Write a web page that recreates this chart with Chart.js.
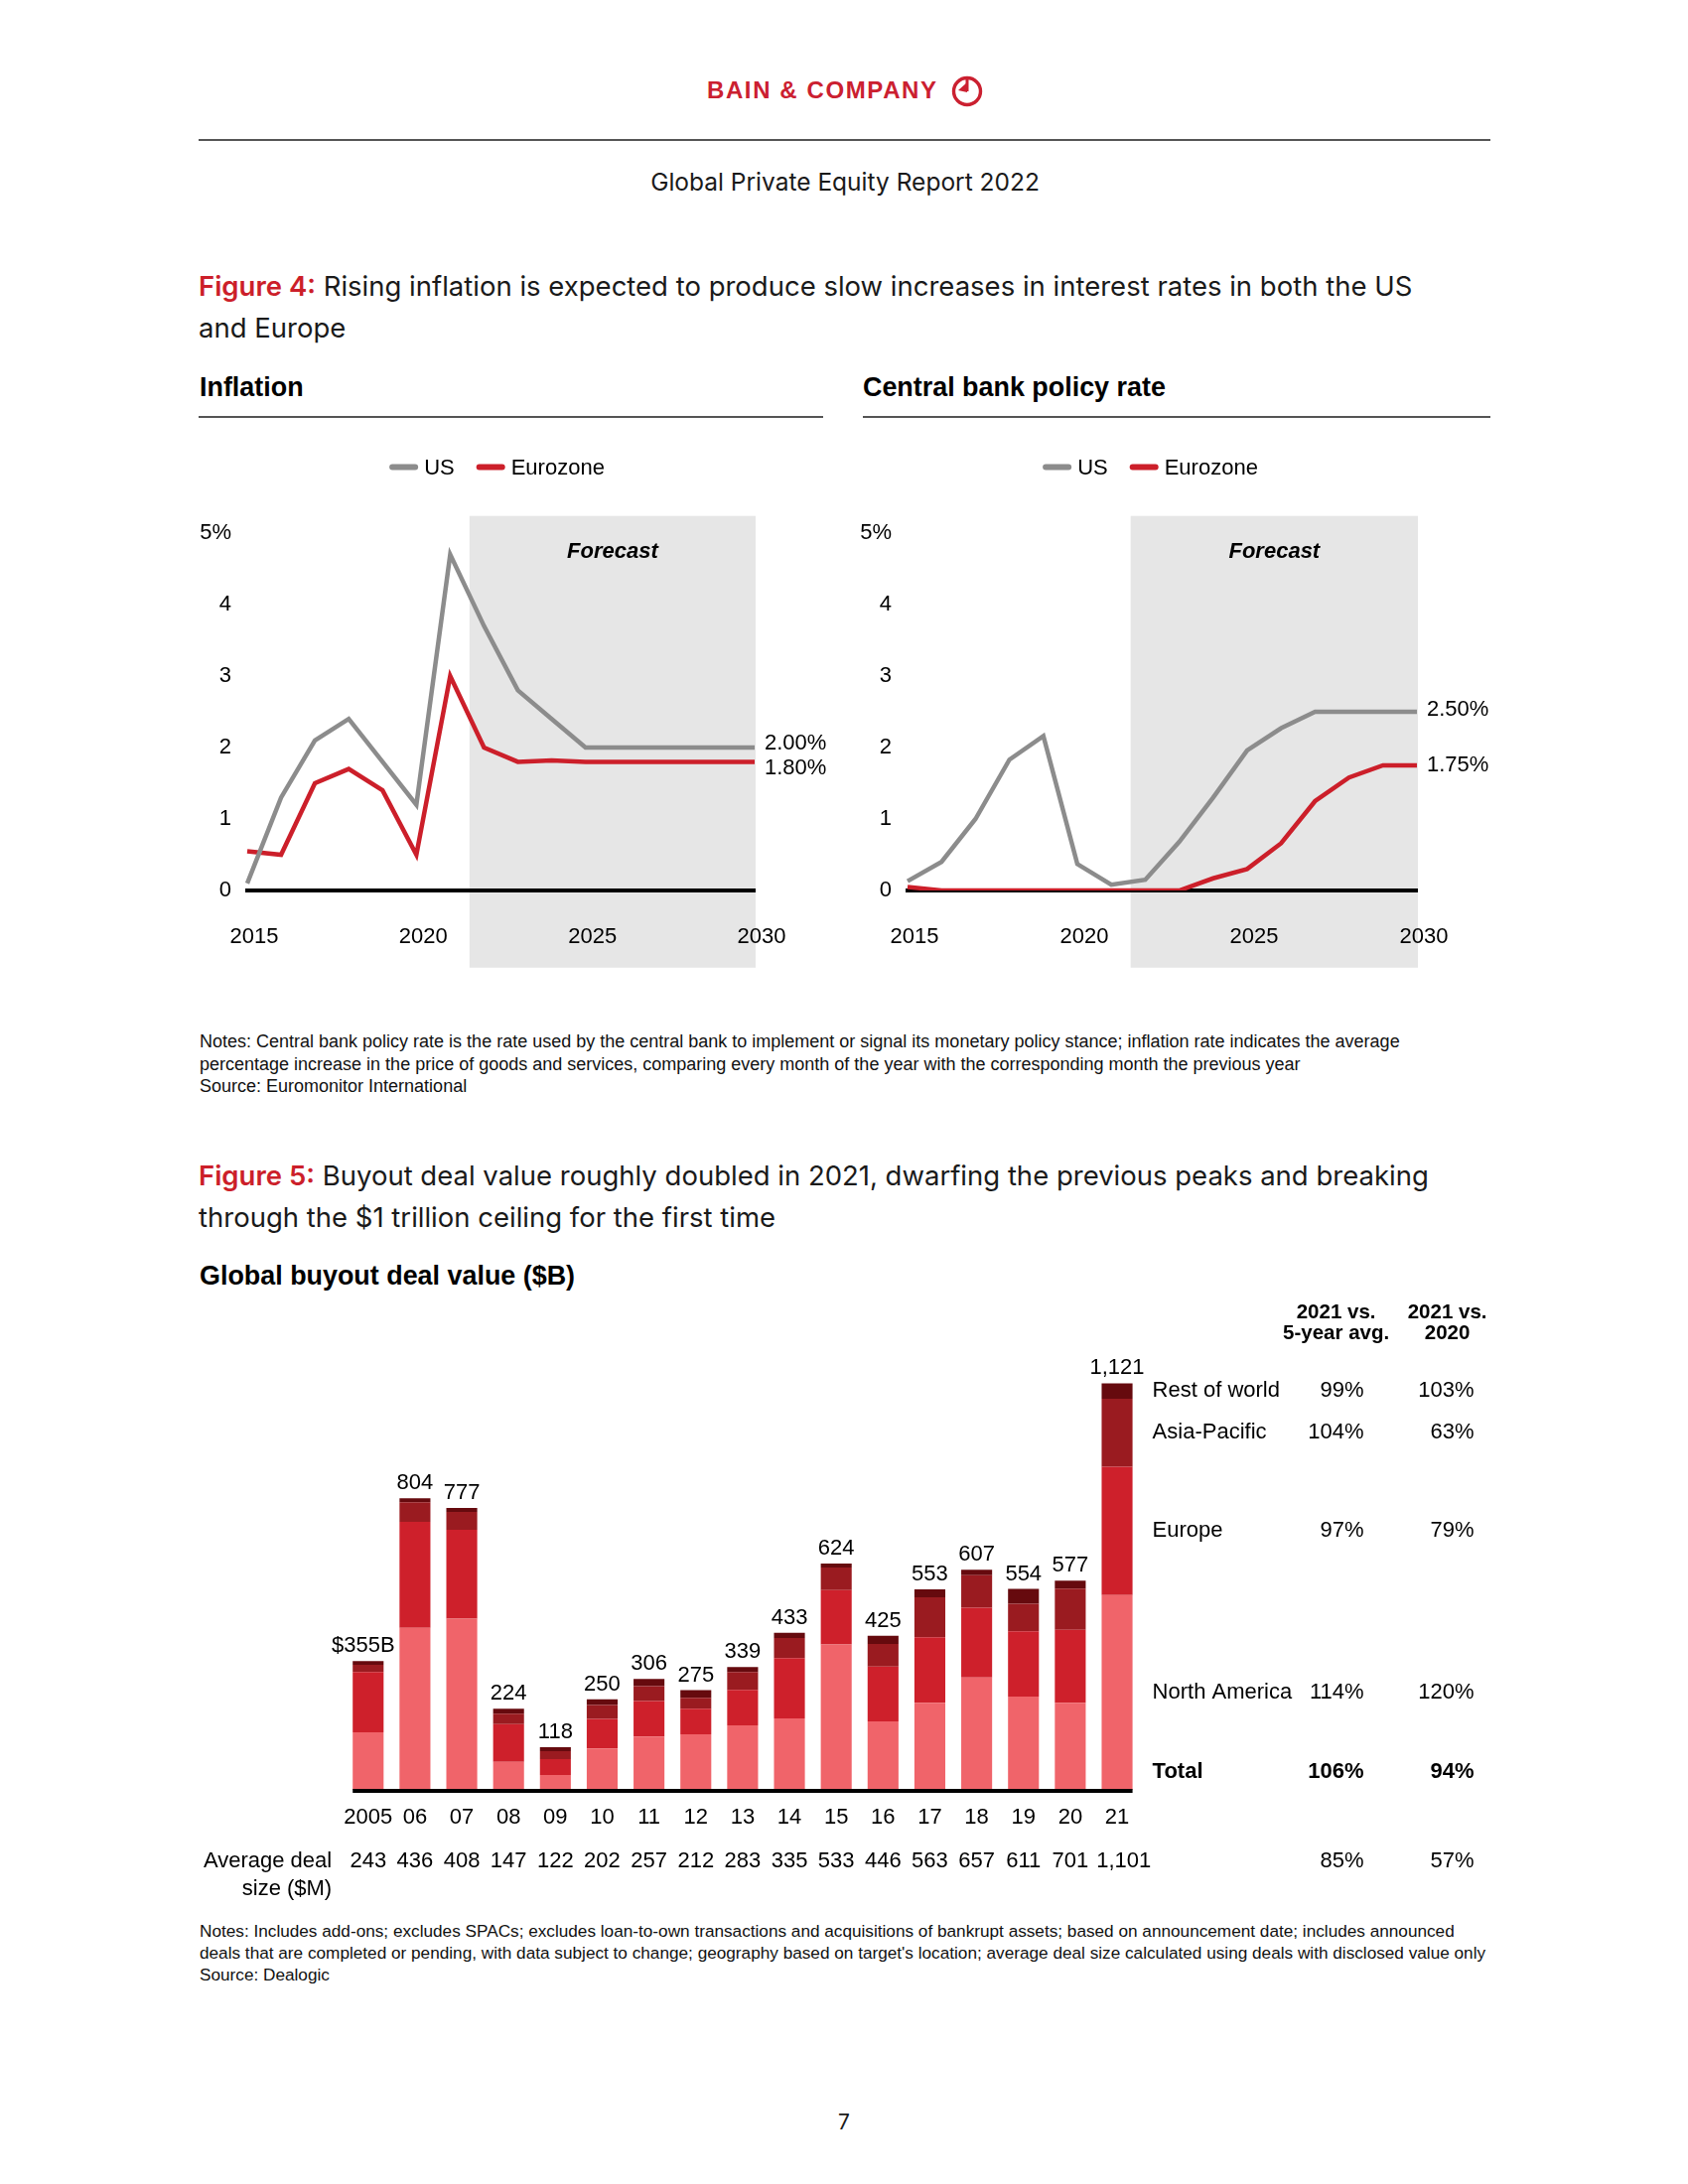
<!DOCTYPE html>
<html>
<head>
<meta charset="utf-8">
<title>Global Private Equity Report 2022</title>
<script src="https://cdn.jsdelivr.net/npm/chart.js@4.4.1/dist/chart.umd.min.js"></script>
<style>
  body { margin: 0; background: #fff; }
  #page { position: relative; width: 1700px; height: 2200px; background: #fff; color: #000;
          font-family: "Liberation Sans", Arial, sans-serif; overflow: hidden; }
  .abs { position: absolute; white-space: nowrap; }
  .sans { font-family: Inter, "Open Sans", sans-serif; color: #1a1a1a; }
  .fig-title { left: 200px; font-size: 27.5px; line-height: 42px; }
  .fig-title b { color: #cc1f2a; font-weight: 600; }
  .chart-head { font-size: 26.9px; font-weight: bold; line-height: 30px; }
  .rule { position: absolute; height: 2px; background: #555; }
  .notes { left: 201px; color: #111; }
  .box { position: absolute; }
</style>
</head>
<body>
<div id="page">
  <!-- header -->
  <div class="abs" style="left:712px; top:77px; line-height:28px; font-size:24px; font-weight:bold; letter-spacing:1.6px; color:#cb2030;">BAIN &amp; COMPANY</div>
  <svg class="abs" style="left:957px; top:75px;" width="34" height="34" viewBox="0 0 34 34">
    <circle cx="17" cy="17" r="13.5" fill="none" stroke="#cb2030" stroke-width="3.4"/>
    <line x1="17" y1="3" x2="17" y2="17" stroke="#cb2030" stroke-width="3"/>
    <polygon points="17,8 17,18 8,16" fill="#cb2030"/>
  </svg>
  <div class="rule" style="left:200px; top:140px; width:1301px;"></div>
  <div class="abs sans" style="left:0; width:1702px; text-align:center; top:168px; line-height:30px; font-size:24.5px;">Global Private Equity Report 2022</div>

  <!-- figure 4 -->
  <div class="abs sans fig-title" style="top:267px;"><b>Figure 4:</b> Rising inflation is expected to produce slow increases in interest rates in both the US<br>and Europe</div>
  <div class="abs chart-head" style="left:201px; top:375px;">Inflation</div>
  <div class="abs chart-head" style="left:869px; top:375px;">Central bank policy rate</div>
  <div class="rule" style="left:200px; top:419px; width:629px; height:1.5px;"></div>
  <div class="rule" style="left:869px; top:419px; width:632px; height:1.5px;"></div>

  <div class="box" style="left:180px; top:445px; width:670px; height:540px;"><canvas id="inflationChart"></canvas></div>
  <div class="box" style="left:845px; top:445px; width:660px; height:540px;"><canvas id="policyChart"></canvas></div>

  <div class="abs notes" style="top:1038px; line-height:22.5px; font-size:18px;">Notes: Central bank policy rate is the rate used by the central bank to implement or signal its monetary policy stance; inflation rate indicates the average<br>percentage increase in the price of goods and services, comparing every month of the year with the corresponding month the previous year<br>Source: Euromonitor International</div>

  <!-- figure 5 -->
  <div class="abs sans fig-title" style="top:1163px;"><b>Figure 5:</b> Buyout deal value roughly doubled in 2021, dwarfing the previous peaks and breaking<br>through the $1 trillion ceiling for the first time</div>
  <div class="abs chart-head" style="left:201px; top:1270px;">Global buyout deal value ($B)</div>

  <div class="box" style="left:190px; top:1300px; width:1320px; height:620px;"><canvas id="dealChart"></canvas></div>

  <div class="abs notes" style="top:1934px; line-height:22px; font-size:17.2px;">Notes: Includes add-ons; excludes SPACs; excludes loan-to-own transactions and acquisitions of bankrupt assets; based on announcement date; includes announced<br>deals that are completed or pending, with data subject to change; geography based on target's location; average deal size calculated using deals with disclosed value only<br>Source: Dealogic</div>

  <div class="abs sans" style="left:0; width:1700px; text-align:center; top:2125px; line-height:26px; font-size:21px;">7</div>
</div>

<script>
// ─── Data ────────────────────────────────────────────────────────────────────
const years = [2015, 2016, 2017, 2018, 2019, 2020, 2021, 2022, 2023, 2024, 2025, 2026, 2027, 2028, 2029, 2030];
const forecastFrom = 2021.57;

const inflationUS   = [0.1, 1.3, 2.1, 2.4, 1.8, 1.2, 4.7, 3.7, 2.8, 2.4, 2.0, 2.0, 2.0, 2.0, 2.0, 2.0];
const inflationEuro = [0.55, 0.5, 1.5, 1.7, 1.4, 0.5, 3.0, 2.0, 1.8, 1.82, 1.8, 1.8, 1.8, 1.8, 1.8, 1.8];

const policyUS   = [0.13, 0.4, 1.0, 1.83, 2.16, 0.37, 0.08, 0.15, 0.68, 1.3, 1.96, 2.27, 2.5, 2.5, 2.5, 2.5];
const policyEuro = [0.05, 0.0, 0.0, 0.0, 0.0, 0.0, 0.0, 0.0, 0.0, 0.17, 0.3, 0.66, 1.25, 1.58, 1.75, 1.75];

const dealYears = ['2005', '06', '07', '08', '09', '10', '11', '12', '13', '14', '15', '16', '17', '18', '19', '20', '21'];
const northAmerica = [159, 447, 472, 77, 41, 114, 147, 153, 178, 197, 401, 189, 240, 310, 257, 240, 537];
const europe       = [166, 292, 245, 104, 44, 82, 98, 71, 98, 166, 150, 151, 181, 192, 180, 201, 354];
const asiaPacific  = [20, 54, 49, 29, 22, 38, 41, 30, 49, 56, 62, 62, 110, 90, 76, 114, 187];
const restOfWorld  = [10, 11, 11, 14, 11, 16, 20, 21, 14, 14, 11, 23, 22, 15, 41, 22, 43];
const avgDealSize  = [243, 436, 408, 147, 122, 202, 257, 212, 283, 335, 533, 446, 563, 657, 611, 701, 1101];

// 2021 growth table, same order as the stacked series (bottom to top)
const vsFiveYearAvg = [114, 97, 104, 99];
const vs2020        = [120, 79, 63, 103];
const totalGrowth   = [106, 94];
const avgDealGrowth = [85, 57];

const FONT = '"Liberation Sans", Arial, sans-serif';
const GREY = '#8c8c8c';
const RED = '#cc1f2a';

Chart.defaults.font.family = FONT;
Chart.defaults.color = '#000';
Chart.defaults.animation = false;

// ─── Line charts (inflation / policy rate) ──────────────────────────────────
const forecastShade = {
  id: 'forecastShade',
  beforeDraw(chart) {
    const { ctx, chartArea, scales: { x, y } } = chart;
    const x0 = x.getPixelForValue(forecastFrom - years[0]);
    const x1 = x.getPixelForValue(years.length - 1) + 1;
    const top = y.getPixelForValue(5.24);
    const bottom = y.getPixelForValue(-1.08);
    ctx.save();
    ctx.fillStyle = '#e6e6e6';
    ctx.fillRect(x0, top, x1 - x0, bottom - top);
    ctx.fillStyle = '#000';
    ctx.font = 'italic bold 22px ' + FONT;
    ctx.textAlign = 'center';
    ctx.textBaseline = 'middle';
    ctx.fillText('Forecast', (x0 + x1) / 2, chartArea.top + 19);
    ctx.restore();
  }
};

function lineLegend(shift) {
  return {
    id: 'lineLegend',
    afterDraw(chart) {
      const { ctx, chartArea } = chart;
      const sets = chart.data.datasets;
      const iconW = 29, gapIcon = 6, gapItem = 22;
      ctx.save();
      ctx.font = '22px ' + FONT;
      const widths = sets.map(d => iconW + gapIcon + ctx.measureText(d.label).width);
      const total = widths.reduce((a, b) => a + b, 0) + gapItem * (sets.length - 1);
      let x = (chartArea.left + chartArea.right) / 2 + shift - total / 2;
      const y = chartArea.top - 66.5;
      sets.forEach((d, i) => {
        ctx.strokeStyle = d.borderColor;
        ctx.lineWidth = 6;
        ctx.lineCap = 'round';
        ctx.beginPath();
        ctx.moveTo(x + 3, y);
        ctx.lineTo(x + iconW - 3, y);
        ctx.stroke();
        ctx.fillStyle = '#000';
        ctx.textAlign = 'left';
        ctx.textBaseline = 'middle';
        ctx.fillText(d.label, x + iconW + gapIcon, y + 1);
        x += widths[i] + gapItem;
      });
      ctx.restore();
    }
  };
}

function endLabels(nudge) {
  return {
    id: 'endLabels',
    afterDatasetsDraw(chart) {
      const { ctx } = chart;
      ctx.save();
      ctx.font = '22px ' + FONT;
      ctx.fillStyle = '#000';
      ctx.textAlign = 'left';
      ctx.textBaseline = 'middle';
      chart.data.datasets.forEach((d, i) => {
        const pts = chart.getDatasetMeta(i).data;
        const last = pts[pts.length - 1];
        ctx.fillText(d.data[d.data.length - 1].toFixed(2) + '%', last.x + 10, last.y + nudge[i]);
      });
      ctx.restore();
    }
  };
}

function renderLineChart(id, us, euro, padRight, legendShift, nudge) {
  const ctx = document.getElementById(id);
  return new Chart(ctx, {
    type: 'line',
    data: {
      labels: years,
      datasets: [
        { label: 'US', data: us, borderColor: GREY, borderWidth: 4.5, pointRadius: 0, tension: 0 },
        { label: 'Eurozone', data: euro, borderColor: RED, borderWidth: 4.5, pointRadius: 0, tension: 0 },
      ],
    },
    options: {
      responsive: true,
      maintainAspectRatio: false,
      layout: { padding: { top: 92, right: padRight, bottom: 0, left: 0 } },
      plugins: { legend: { display: false }, tooltip: { enabled: false } },
      scales: {
        x: {
          grid: { display: false },
          border: { display: true, color: '#000', width: 4 },
          afterFit: s => { s.height = 88; },
          ticks: {
            autoSkip: false, maxRotation: 0, padding: 26, labelOffset: 7,
            font: { size: 22 },
            callback: (v, i) => (years[i] % 5 === 0 ? String(years[i]) : ''),
          },
        },
        y: {
          min: 0, max: 5,
          grid: { display: false },
          border: { display: false },
          afterFit: s => { s.width = 69; },
          ticks: { stepSize: 1, padding: 8, font: { size: 22 }, callback: v => (v === 5 ? '5%' : v) },
        },
      },
    },
    plugins: [forecastShade, lineLegend(legendShift), endLabels(nudge)],
  });
}

// ─── Stacked bars (buyout deal value) ───────────────────────────────────────
const dealAnnotations = {
  id: 'dealAnnotations',
  afterDatasetsDraw(chart) {
    const { ctx, chartArea } = chart;
    const metas = chart.data.datasets.map((d, i) => chart.getDatasetMeta(i));
    const first = metas[0].data[0];
    const lastIdx = dealYears.length - 1;
    const lastBar = metas[0].data[lastIdx];
    const base = chartArea.bottom;

    ctx.save();
    // baseline under the bars
    ctx.fillStyle = '#000';
    const x0 = first.x - first.width / 2;
    ctx.fillRect(x0, base - 1, lastBar.x + lastBar.width / 2 - x0, 4);

    ctx.font = '22px ' + FONT;
    ctx.textAlign = 'center';
    ctx.textBaseline = 'alphabetic';
    // totals above each bar
    dealYears.forEach((yr, i) => {
      const total = northAmerica[i] + europe[i] + asiaPacific[i] + restOfWorld[i];
      const topEl = metas[metas.length - 1].data[i];
      const txt = i === 0 ? '$' + total + 'B' : total.toLocaleString('en-US');
      ctx.fillText(txt, topEl.x - (i === 0 ? 5 : 0), topEl.y - 9);
    });

    // average deal size row (nudged right where a label would collide)
    ctx.textBaseline = 'middle';
    let prevRight = -Infinity;
    dealYears.forEach((yr, i) => {
      const el = metas[0].data[i];
      const txt = avgDealSize[i].toLocaleString('en-US');
      const w = ctx.measureText(txt).width;
      const cx = Math.max(el.x, prevRight + 8 + w / 2);
      ctx.fillText(txt, cx, base + 72);
      prevRight = cx + w / 2;
    });
    ctx.textAlign = 'right';
    ctx.fillText('Average deal', chartArea.left - 13, base + 72);
    ctx.fillText('size ($M)', chartArea.left - 13, base + 100);

    // growth table to the right of the 2021 bar
    const nameX = chartArea.right + 12;
    const col1 = chartArea.right + 225;
    const col2 = chartArea.right + 336;
    chart.data.datasets.forEach((d, i) => {
      const el = metas[i].data[lastIdx];
      const y = (el.y + el.base) / 2;
      ctx.textAlign = 'left';
      ctx.fillText(d.label, nameX, y);
      ctx.textAlign = 'right';
      ctx.fillText(vsFiveYearAvg[i] + '%', col1, y);
      ctx.fillText(vs2020[i] + '%', col2, y);
    });
    ctx.textAlign = 'right';
    ctx.fillText(avgDealGrowth[0] + '%', col1, base + 72);
    ctx.fillText(avgDealGrowth[1] + '%', col2, base + 72);

    ctx.font = 'bold 22px ' + FONT;
    ctx.textAlign = 'left';
    ctx.fillText('Total', nameX, base - 18);
    ctx.textAlign = 'right';
    ctx.fillText(totalGrowth[0] + '%', col1, base - 18);
    ctx.fillText(totalGrowth[1] + '%', col2, base - 18);

    ctx.font = 'bold 20.5px ' + FONT;
    ctx.textAlign = 'center';
    ctx.fillText('2021 vs.', col1 - 28, chartArea.top - 6);
    ctx.fillText('5-year avg.', col1 - 28, chartArea.top + 15);
    ctx.fillText('2021 vs.', col2 - 27, chartArea.top - 6);
    ctx.fillText('2020', col2 - 27, chartArea.top + 15);
    ctx.restore();
  }
};

function renderDealChart() {
  const ctx = document.getElementById('dealChart');
  const series = [
    { label: 'North America', data: northAmerica, color: '#f0646a' },
    { label: 'Europe',        data: europe,       color: '#ce202b' },
    { label: 'Asia-Pacific',  data: asiaPacific,  color: '#9a1b20' },
    { label: 'Rest of world', data: restOfWorld,  color: '#660a0e' },
  ];
  return new Chart(ctx, {
    type: 'bar',
    data: {
      labels: dealYears,
      datasets: series.map(s => ({
        label: s.label,
        data: s.data,
        backgroundColor: s.color,
        borderWidth: 0,
        barPercentage: 0.66,
        categoryPercentage: 1,
      })),
    },
    options: {
      responsive: true,
      maintainAspectRatio: false,
      layout: { padding: { top: 28, right: 361.4, bottom: 0, left: 157.2 } },
      plugins: { legend: { display: false }, tooltip: { enabled: false } },
      scales: {
        x: {
          stacked: true,
          grid: { display: false },
          border: { display: false },
          afterFit: s => { s.height = 117; },
          ticks: { autoSkip: false, maxRotation: 0, padding: 7, font: { size: 22 } },
        },
        y: { stacked: true, display: false, min: 0, max: 1300 },
      },
    },
    plugins: [dealAnnotations],
  });
}

renderLineChart('inflationChart', inflationUS, inflationEuro, 90, -4, [-4.5, 6.5]);
renderLineChart('policyChart', policyUS, policyEuro, 78, -12, [-2, 0]);
renderDealChart();
</script>
</body>
</html>
